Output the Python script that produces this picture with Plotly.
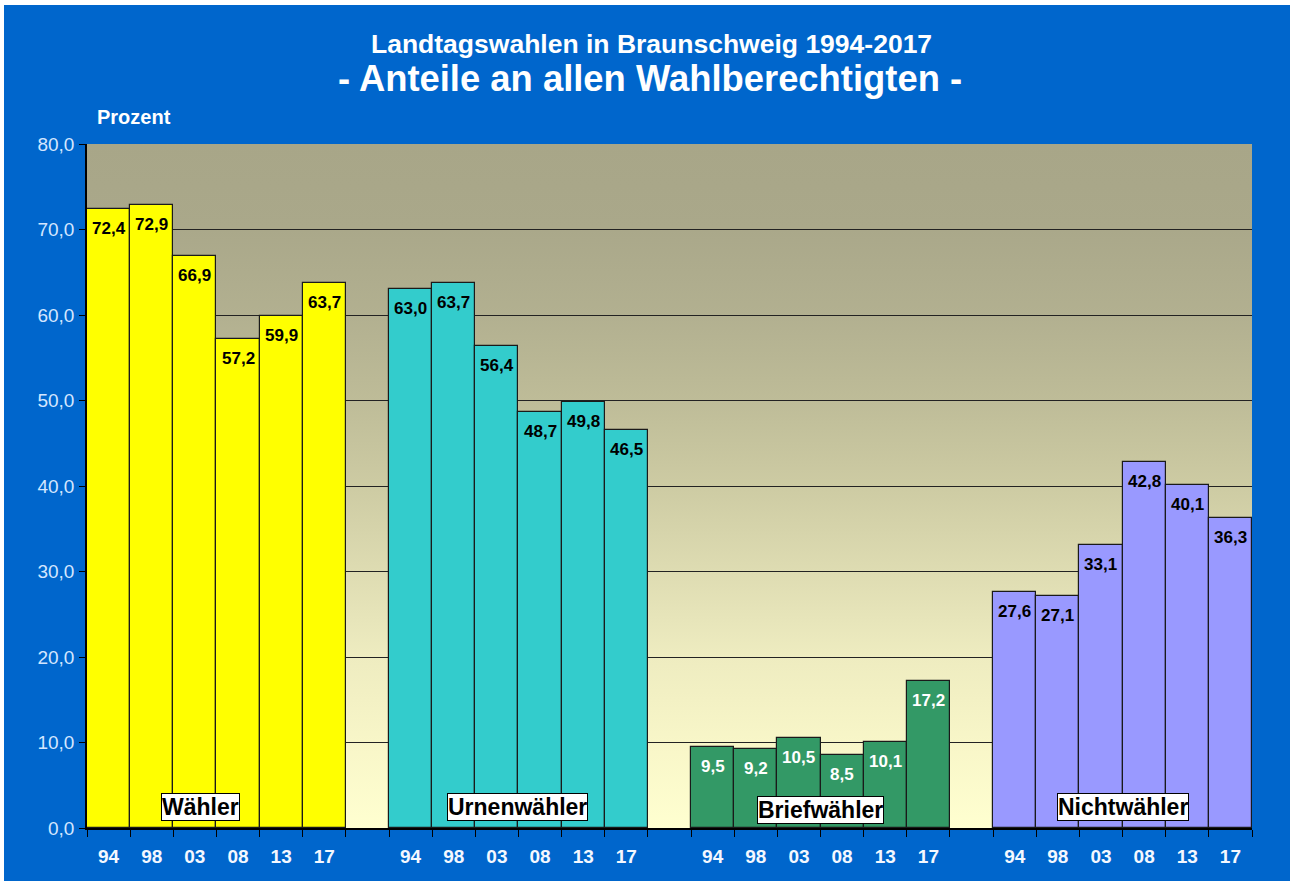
import base64
import plotly.graph_objects as go

# ---------------- data ----------------
years = ["94", "98", "03", "08", "13", "17"]
groups = ["Wähler", "Urnenwähler", "Briefwähler", "Nichtwähler"]
waehler = [72.4, 72.9, 66.9, 57.2, 59.9, 63.7]
urnenwaehler = [63.0, 63.7, 56.4, 48.7, 49.8, 46.5]
briefwaehler = [9.5, 9.2, 10.5, 8.5, 10.1, 17.2]
nichtwaehler = [27.6, 27.1, 33.1, 42.8, 40.1, 36.3]
y_ticks = [0, 10, 20, 30, 40, 50, 60, 70, 80]

series = [waehler, urnenwaehler, briefwaehler, nichtwaehler]
bar_colors = ["#FFFF00", "#33CCCC", "#339966", "#9999FF"]
label_colors = ["#000000", "#000000", "#FFFFFF", "#000000"]
group_label_pos = [(2.14, 2.5), (9.47, 2.5), (16.5, 2.05), (23.5, 2.45)]

SLOT = len(years) + 1  # 6 bars + 1 empty gap slot
n_slots = SLOT * len(groups) - 1
x_range = [-0.5, n_slots - 0.5]
y_range = [0, 80]

FONT = "Arial, 'Liberation Sans', sans-serif"
BLUE = "#0066CC"

fig = go.Figure()
annotations = []
tickvals, ticktext = [], []

for g, (name, vals) in enumerate(zip(groups, series)):
    xs = [g * SLOT + k for k in range(len(vals))]
    fig.add_trace(go.Bar(
        x=xs, y=vals, name=name, width=1.0,
        marker=dict(color=bar_colors[g], line=dict(color="#1a1a1a", width=1.2)),
        showlegend=False, hoverinfo="y",
    ))
    for x, v in zip(xs, vals):
        annotations.append(dict(
            x=x, y=v, xref="x", yref="y", yanchor="top", yshift=-8,
            text=f"{v:.1f}".replace(".", ","), showarrow=False,
            font=dict(family=FONT, size=17, color=label_colors[g], weight="bold"),
        ))
    tickvals += xs
    ticktext += years
    gx, gy = group_label_pos[g]
    annotations.append(dict(
        x=gx, y=gy, xref="x", yref="y", xanchor="center", yanchor="middle",
        text=name, showarrow=False, bgcolor="white", bordercolor="black",
        borderwidth=1, borderpad=0,
        font=dict(family=FONT, size=23, color="black", weight="bold"),
    ))

# layout geometry (pixels)
W, H = 1290, 881
L, T = 87, 144
PW, PH = 1165, 684
R, B = W - L - PW, H - T - PH


def px_x(px):
    return (px - L) / PW


def px_y(py):
    return (T + PH - py) / PH


annotations += [
    dict(x=px_x(651), y=px_y(44), xref="paper", yref="paper", xanchor="center",
         yanchor="middle", showarrow=False,
         text="Landtagswahlen in Braunschweig 1994-2017",
         font=dict(family=FONT, size=26.5, color="white", weight="bold")),
    dict(x=px_x(650), y=px_y(79), xref="paper", yref="paper", xanchor="center",
         yanchor="middle", showarrow=False,
         text="- Anteile an allen Wahlberechtigten -",
         font=dict(family=FONT, size=36.4, color="white", weight="bold")),
    dict(x=px_x(95), y=px_y(117), xref="paper", yref="paper", xanchor="left",
         yanchor="middle", showarrow=False, text="Prozent",
         font=dict(family=FONT, size=20, color="white", weight="bold")),
]

# gradient background of plot area (SVG image)
svg = (
    '<svg xmlns="http://www.w3.org/2000/svg" width="10" height="100" preserveAspectRatio="none">'
    '<defs><linearGradient id="g" x1="0" y1="0" x2="0" y2="1">'
    '<stop offset="0" stop-color="#A8A688"/>'
    '<stop offset="0.125" stop-color="#AAA88A"/>'
    '<stop offset="0.25" stop-color="#B2B090"/>'
    '<stop offset="0.375" stop-color="#BEBC98"/>'
    '<stop offset="0.5" stop-color="#CDCBA3"/>'
    '<stop offset="0.625" stop-color="#DEDCB2"/>'
    '<stop offset="0.75" stop-color="#EEECC0"/>'
    '<stop offset="0.875" stop-color="#F8F6C8"/>'
    '<stop offset="1" stop-color="#FFFFD0"/>'
    '</linearGradient></defs>'
    '<rect x="0" y="0" width="10" height="100" fill="url(#g)"/></svg>'
)
src = "data:image/svg+xml;base64," + base64.b64encode(svg.encode()).decode()

fig.update_layout(
    width=W, height=H,
    margin=dict(l=L, r=R, t=T, b=B, pad=0),
    paper_bgcolor=BLUE, plot_bgcolor="#FFFFD0",
    bargap=0, barmode="overlay",
    separators=",.",
    annotations=annotations,
    images=[dict(source=src, xref="x", yref="y", x=x_range[0], y=y_range[1],
                 sizex=x_range[1] - x_range[0], sizey=y_range[1] - y_range[0],
                 xanchor="left", yanchor="top", sizing="stretch", layer="below")],
    shapes=[
        dict(type="rect", xref="paper", yref="paper", x0=px_x(0), x1=px_x(W),
             y0=px_y(5), y1=px_y(0), fillcolor="white", line_width=0, layer="below"),
        dict(type="rect", xref="paper", yref="paper", x0=px_x(0), x1=px_x(4),
             y0=px_y(H), y1=px_y(0), fillcolor="white", line_width=0, layer="below"),
    ],
    xaxis=dict(
        range=x_range, tickmode="array", tickvals=tickvals, ticktext=ticktext,
        ticks="", showgrid=False, zeroline=False,
        showline=True, linecolor="black", linewidth=1.5,
        tickfont=dict(family=FONT, size=19, color="#F4F8FF", weight="bold"),
        ticklabelstandoff=10,
        minor=dict(tickmode="linear", tick0=-0.5, dtick=1, ticks="outside",
                   ticklen=7, tickcolor="black", tickwidth=1.2, showgrid=False),
        fixedrange=True,
    ),
    yaxis=dict(
        range=y_range, tickmode="array", tickvals=y_ticks, tickformat=".1f",
        ticks="outside", ticklen=6, tickcolor="black", tickwidth=1.2,
        showgrid=True, gridcolor="#222222", gridwidth=1.2,
        zeroline=False, showline=True, linecolor="black", linewidth=1.5,
        tickfont=dict(family=FONT, size=19, color="#D4E6FF"),
        ticklabelstandoff=1, fixedrange=True,
    ),
)

fig.write_html(
    "out.html",
    config={"displayModeBar": False, "responsive": False},
    post_script=(
        "document.documentElement.style.overflow='hidden';"
        "document.documentElement.style.background='#0066CC';"
        "document.body.style.margin='0';"
        "document.body.style.overflow='hidden';"
        "document.body.style.background='#0066CC';"
    ),
)
